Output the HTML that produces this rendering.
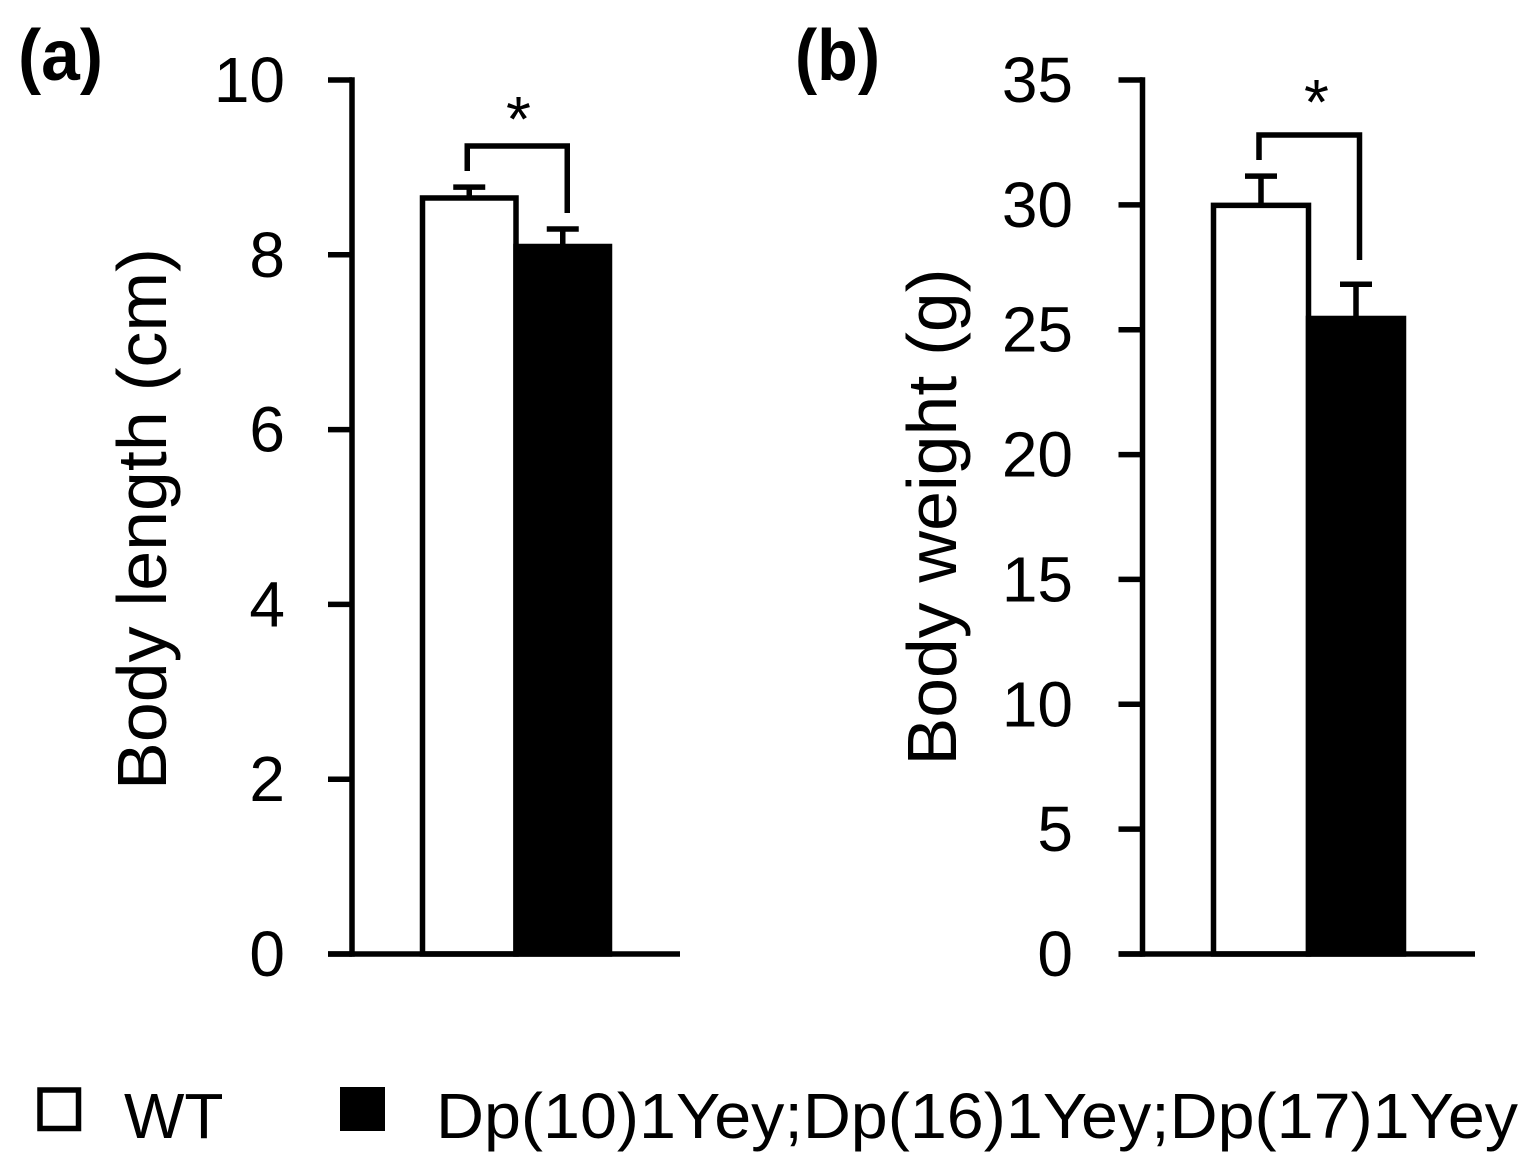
<!DOCTYPE html>
<html>
<head>
<meta charset="utf-8">
<title>Body length and body weight</title>
<style>
html,body{margin:0;padding:0;background:#fff;}
svg{display:block;}
text{font-family:"Liberation Sans",sans-serif;fill:#000;}
</style>
</head>
<body>
<svg id="chart" width="1532" height="1171" viewBox="0 0 1532 1171" xmlns="http://www.w3.org/2000/svg"></svg>
<script>
const panelAName = 'length';
const panelATicks = [0, 2, 4, 6, 8, 10];
const panelAValues = [8.65, 8.095];
const panelAErrors = [0.125, 0.2];
const panelBName = 'weight';
const panelBTicks = [0, 5, 10, 15, 20, 25, 30, 35];
const panelBValues = [29.98, 25.45];
const panelBErrors = [1.17, 1.37];
const seriesNames = ['WT', 'Dp(10)1Yey;Dp(16)1Yey;Dp(17)1Yey'];

const NS = 'http://www.w3.org/2000/svg';
const svg = document.getElementById('chart');
function make(tag, attrs, text) {
  const el = document.createElementNS(NS, tag);
  for (const k in attrs) el.setAttribute(k, attrs[k]);
  if (text !== undefined) el.textContent = text;
  svg.appendChild(el);
  return el;
}
function drawPanel(name, ticks, values, errors, g) {
  const max = ticks[ticks.length - 1];
  const y = v => g.y0 - (v / max) * (g.y0 - g.y1);
  const lw = 5.5;
  let el;
  values.forEach((v, i) => {
    const left = g.barX + i * g.barW;
    const top = y(v);
    const errTop = y(v + errors[i]);
    const cx = left + g.barW / 2;
    el = make('line', {x1: cx, x2: cx, y1: errTop, y2: top, stroke: '#000', 'stroke-width': lw});
    
    
    el = make('line', {x1: cx - 16, x2: cx + 16, y1: errTop, y2: errTop, stroke: '#000', 'stroke-width': lw});
    
    
    el = make('rect', {x: left, y: top, width: g.barW, height: g.y0 - top, fill: i === 0 ? '#fff' : '#000', stroke: '#000', 'stroke-width': lw});
    
    
  });
  el = make('line', {x1: g.axisX, x2: g.axisX, y1: y(max) - 2.75, y2: g.y0 + 2.75, stroke: '#000', 'stroke-width': lw});
  
  
  el = make('line', {x1: g.axisX - 24, x2: g.xEnd, y1: g.y0, y2: g.y0, stroke: '#000', 'stroke-width': lw});
  
  
  ticks.forEach(t => {
    el = make('line', {x1: g.axisX - 24, x2: g.axisX, y1: y(t), y2: y(t), stroke: '#000', 'stroke-width': lw});
    
    
    el = make('text', {x: g.labelX, y: y(t) + 22, 'text-anchor': 'end', 'font-size': 64}, String(t));
    
    
  });
  el = make('text', {x: 0, y: 0, 'text-anchor': 'middle', 'font-size': 70, textLength: g.titleLen, lengthAdjust: 'spacingAndGlyphs', transform: 'translate(' + g.titleX + ' ' + g.titleY + ') rotate(-90)'}, g.title);
  
  
  el = make('text', {x: g.letterX, y: 80, 'font-size': 72, 'font-weight': 'bold', textLength: 85, lengthAdjust: 'spacingAndGlyphs'}, g.letter);
  
  
  const c0 = g.barX + g.barW / 2;
  const c1 = g.barX + g.barW * 1.5;
  el = make('path', {d: 'M' + (c0 + g.brA) + ' ' + g.br0 + 'V' + g.brTop + 'H' + (c1 + g.brB) + 'V' + g.br1, fill: 'none', stroke: '#000', 'stroke-width': lw});
  
  
  el = make('text', {x: (c0 + c1) / 2 + g.starDx, y: g.starY, 'text-anchor': 'middle', 'font-size': 64}, '*');
  
  
}
drawPanel(panelAName, panelATicks, panelAValues, panelAErrors, {
  axisX: 352, xEnd: 680, y0: 954, y1: 80, barX: 422.5, barW: 93.5, labelX: 285,
  title: 'Body length (cm)', titleLen: 542, titleX: 166, titleY: 519, letter: '(a)', letterX: 18,
  brA: -2, brB: 4.5, brTop: 146, br0: 171, br1: 213, starDx: 2.5, starY: 141
});
drawPanel(panelBName, panelBTicks, panelBValues, panelBErrors, {
  axisX: 1142.5, xEnd: 1475, y0: 954, y1: 80, barX: 1213.5, barW: 95, labelX: 1073,
  title: 'Body weight (g)', titleLen: 497, titleX: 956, titleY: 517, letter: '(b)', letterX: 795,
  brA: -2, brB: 3.5, brTop: 135, br0: 160, br1: 260, starDx: 8, starY: 124
});
let legendItem;
legendItem = make('rect', {x: 40, y: 1090, width: 38.5, height: 38.5, fill: '#fff', stroke: '#000', 'stroke-width': 5.5});


legendItem = make('text', {x: 124, y: 1138, 'font-size': 64}, seriesNames[0]);


legendItem = make('rect', {x: 340, y: 1087, width: 45, height: 44, fill: '#000'});


legendItem = make('text', {x: 436, y: 1138, 'font-size': 64, textLength: 1082, lengthAdjust: 'spacingAndGlyphs'}, seriesNames[1]);


</script>
</body>
</html>
